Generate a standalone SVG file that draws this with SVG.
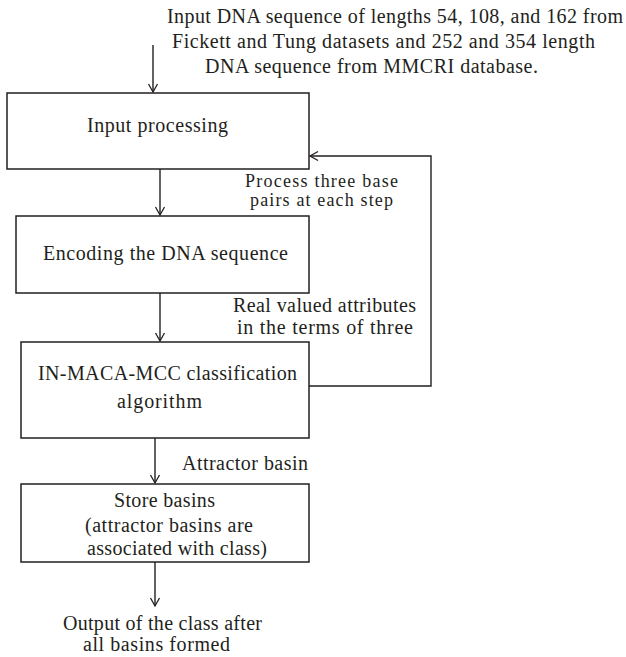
<svg xmlns="http://www.w3.org/2000/svg" width="626" height="657" viewBox="0 0 626 657">
<style>
.box{fill:#fff;stroke:#231f20;stroke-width:1.5}
.ln{fill:none;stroke:#231f20;stroke-width:1.4}
text{font-family:"Liberation Serif","Times New Roman",serif;font-size:20px;fill:#231f20}
.tight{font-size:18px}
</style>
<defs>
<marker id="ah" markerUnits="userSpaceOnUse" markerWidth="12" markerHeight="12" refX="9" refY="5" orient="auto" viewBox="0 0 12 10">
<path d="M1,0.5 L9,5 L1,9.5" fill="none" stroke="#231f20" stroke-width="1.3"/>
</marker>
</defs>
<rect width="626" height="657" fill="#fff"/>
<g id="connectors">
<line class="ln" x1="153" y1="45" x2="153" y2="92" marker-end="url(#ah)"/>
<line class="ln" x1="160" y1="169" x2="160" y2="215" marker-end="url(#ah)"/>
<line class="ln" x1="160" y1="293" x2="160" y2="341" marker-end="url(#ah)"/>
<line class="ln" x1="155" y1="438" x2="155" y2="483" marker-end="url(#ah)"/>
<line class="ln" x1="155" y1="562" x2="155" y2="606" marker-end="url(#ah)"/>
<polyline class="ln" points="309,386 431,386 431,156 310,156" marker-end="url(#ah)"/>
</g>
<g id="input-text">
<text x="167" y="23" textLength="456" lengthAdjust="spacing">Input DNA sequence of lengths 54, 108, and 162 from</text>
<text x="172" y="48" textLength="423" lengthAdjust="spacing">Fickett and Tung datasets and 252 and 354 length</text>
<text x="205" y="73" textLength="333" lengthAdjust="spacing">DNA sequence from MMCRI database.</text>
</g>
<g id="input-processing">
<rect class="box" x="7" y="93" width="302" height="76"/>
<text x="87" y="132" textLength="141" lengthAdjust="spacing">Input processing</text>
</g>
<g id="label-process">
<text class="tight" x="245" y="187" textLength="153" lengthAdjust="spacing">Process three base</text>
<text class="tight" x="250" y="206" textLength="143" lengthAdjust="spacing">pairs at each step</text>
</g>
<g id="encoding">
<rect class="box" x="16" y="216" width="293" height="77"/>
<text x="43" y="260" textLength="245" lengthAdjust="spacing">Encoding the DNA sequence</text>
</g>
<g id="label-real">
<text x="233" y="312" textLength="183" lengthAdjust="spacing">Real valued attributes</text>
<text x="237" y="334" textLength="176" lengthAdjust="spacing">in the terms of three</text>
</g>
<g id="classification">
<rect class="box" x="21" y="342" width="288" height="96"/>
<text x="38" y="380" textLength="259" lengthAdjust="spacing">IN-MACA-MCC classification</text>
<text x="117" y="408" textLength="85" lengthAdjust="spacing">algorithm</text>
</g>
<g id="label-attractor">
<text x="182" y="470" textLength="126" lengthAdjust="spacing">Attractor basin</text>
</g>
<g id="store-basins">
<rect class="box" x="21" y="484" width="288" height="78"/>
<text x="114" y="507" textLength="101" lengthAdjust="spacing">Store basins</text>
<text x="85" y="532" textLength="168" lengthAdjust="spacing">(attractor basins are</text>
<text x="87" y="555" textLength="180" lengthAdjust="spacing">associated with class)</text>
</g>
<g id="output">
<text x="63" y="630" textLength="199" lengthAdjust="spacing">Output of the class after</text>
<text x="83" y="651" textLength="147" lengthAdjust="spacing">all basins formed</text>
</g>
</svg>
